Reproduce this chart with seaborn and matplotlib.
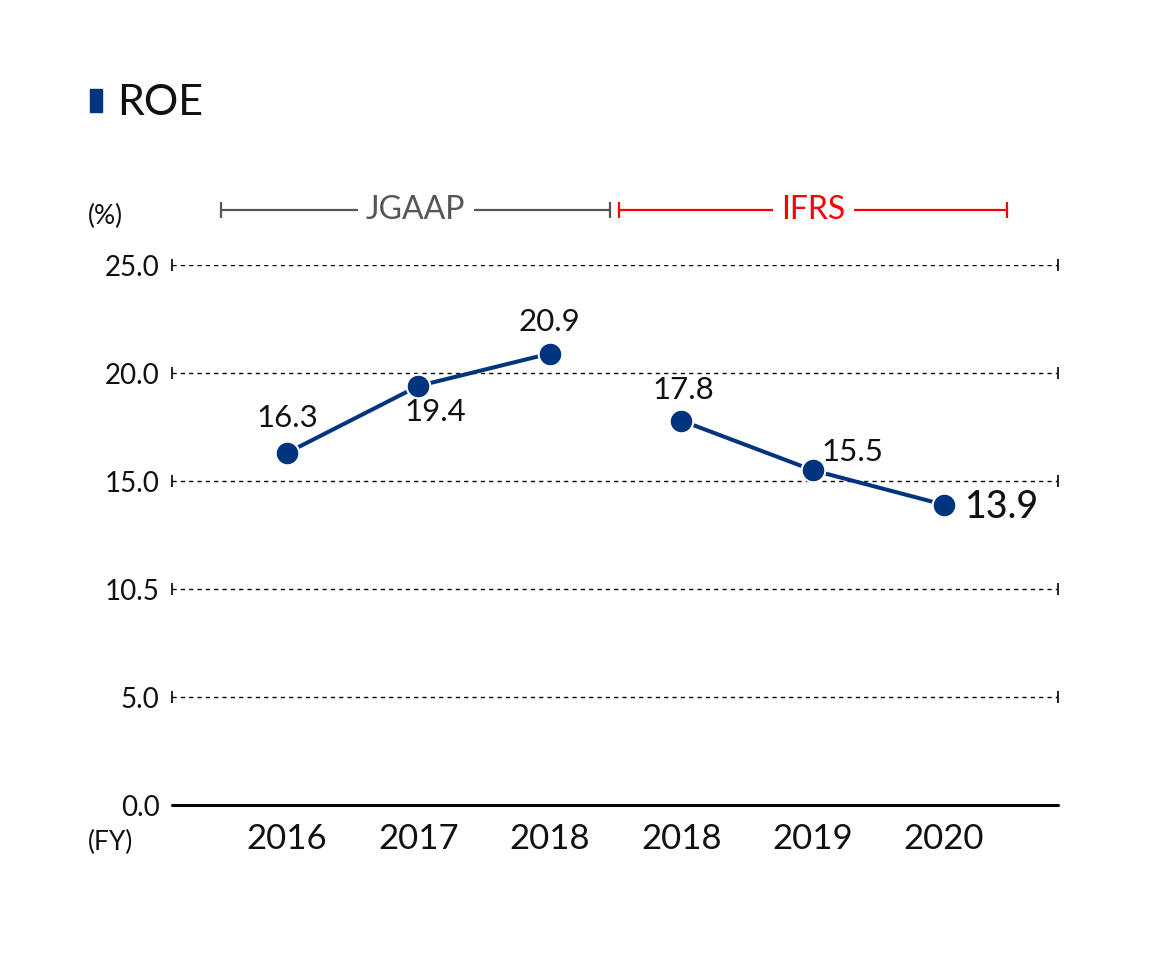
import matplotlib
matplotlib.use("Agg")
import matplotlib.pyplot as plt
from matplotlib.patches import Rectangle
import seaborn as sns
import pandas as pd

# chart data
years = ["2016", "2017", "2018", "2018", "2019", "2020"]
standard = ["JGAAP", "JGAAP", "JGAAP", "IFRS", "IFRS", "IFRS"]
roe = [16.3, 19.4, 20.9, 17.8, 15.5, 13.9]
ytick_vals = [0, 5, 10, 15, 20, 25]
ytick_labels = ["0.0", "5.0", "10.5", "15.0", "20.0", "25.0"]

df = pd.DataFrame({"pos": range(len(years)), "year": years,
                   "standard": standard, "roe": roe})

# label offsets (points) relative to each marker
label_offsets = [(0, 25), (12, -19), (0, 23), (1.5, 22), (29, 13), (41, -2)]

sns.set_theme(style="white")
plt.rcParams["font.family"] = ["Lato", "DejaVu Sans"]

W, H = 1172, 958
fig = plt.figure(figsize=(W / 100, H / 100), dpi=100)
ax = fig.add_axes([172 / W, 1 - 805 / H, (1058 - 172) / W, (805 - 265) / H])

navy = "#00347f"
x0, x1 = -0.875, 5.867
ax.set_xlim(x0, x1)
ax.set_ylim(0, 25)

# dashed gridlines with end ticks
grid_ys = [v for v in ytick_vals if v > 0]
ax.hlines(grid_ys, x0, x1, colors="black", linestyles=(0, (3, 3)), lw=1, zorder=1)
ax.plot([x0] * len(grid_ys), grid_ys, "|", color="black", ms=8, mew=1.2, clip_on=False)
ax.plot([x1] * len(grid_ys), grid_ys, "|", color="black", ms=8, mew=1.2, clip_on=False)
ax.axhline(0, color="black", lw=2.2, clip_on=False, zorder=2)

sns.lineplot(data=df, x="pos", y="roe", units="standard", estimator=None,
             sort=False, color=navy, lw=2.9, marker="o", markersize=17,
             markeredgecolor="white", markeredgewidth=1.5, ax=ax,
             clip_on=False, zorder=3)

for i, (x, y) in enumerate(zip(df["pos"], df["roe"])):
    last = i == len(roe) - 1
    ax.annotate(f"{y:.1f}", (x, y), xytext=label_offsets[i], textcoords="offset points",
                ha="center", va="center", fontsize=27 if last else 22.5,
                fontweight="medium" if last else "normal", color="#111111")

for s in ax.spines.values():
    s.set_visible(False)

ax.set_yticks(ytick_vals, ytick_labels)
ax.set_xticks(range(len(years)), years)
ax.tick_params(axis="y", length=0, pad=9, labelsize=20, labelcolor="#111111")
ax.tick_params(axis="x", length=0, pad=13, labelsize=25, labelcolor="#111111")
ax.set_xlabel("")
ax.set_ylabel("")

# accounting standard brackets
brackets = [("JGAAP", -0.5, 2.46, "#555555"), ("IFRS", 2.53, 5.48, "#ff0000")]
by = 27.55
for name, a, b, col in brackets:
    ax.plot([a, b], [by, by], color=col, lw=1.6, clip_on=False)
    ax.plot([a, b], [by, by], "|", color=col, ms=11, mew=1.6, clip_on=False)
    ax.text((a + b) / 2, by, name, ha="center", va="center", fontsize=23, color=col,
            bbox=dict(facecolor="white", edgecolor="none", pad=6), clip_on=False)

fig.text(88 / W, 1 - 216 / H, "(%)", ha="left", va="center", fontsize=19, color="#111111")
fig.text(88 / W, 1 - 842 / H, "(FY)", ha="left", va="center", fontsize=19, color="#111111")

# title with square marker
fig.patches.append(Rectangle((90 / W, 1 - 112 / H), 12 / W, 23 / H,
                             transform=fig.transFigure, color=navy))
fig.text(117 / W, 1 - 103 / H, "ROE", ha="left", va="center", fontsize=31, color="#111111")

fig.savefig("out.png", dpi=100)
